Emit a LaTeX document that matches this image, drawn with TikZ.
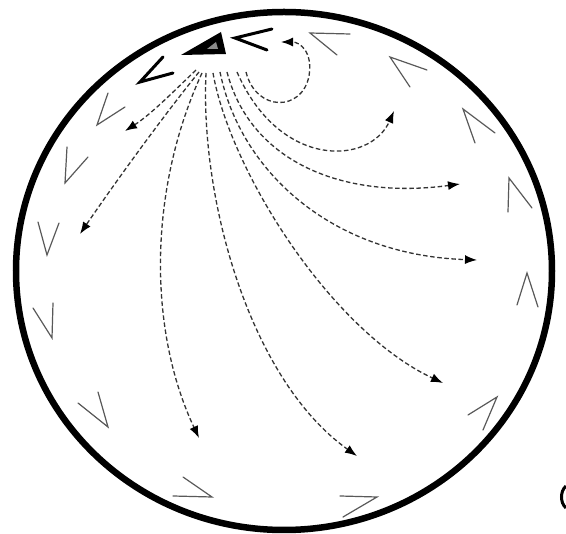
\documentclass[tikz,border=0pt]{standalone}
\usetikzlibrary{arrows.meta}
\begin{document}
\begin{tikzpicture}[x=1pt,y=-1pt,
  rim/.style={line width=6.5pt,black},
  flow/.style={line width=1.3pt,black!80,dash pattern=on 4.5pt off 2.6pt,-{Latex[length=12pt,width=9pt,fill=black,black]}},
  chev/.style={line width=1.2pt,black!65,line cap=round,line join=miter},
  bigchev/.style={line width=3pt,black,line cap=round,line join=miter}]
\useasboundingbox (0,0) rectangle (566,534);
% outer boundary
\draw[rim] (284,271) ellipse [x radius=268, y radius=259];
% fragment at right edge
\draw[line width=3pt] (566,486) .. controls (560,491) and (560,503) .. (566,508);
% source triangle
\fill[black] (181,55) -- (221,32) -- (226,54) -- cycle;
\fill[black!45] (207,49) -- (216,42) -- (218,49) -- cycle;
% thick chevrons near source
\draw[bigchev] (272,29) -- (235,38) -- (267,50);
\draw[bigchev] (163,57) -- (140,82) -- (173,73);
% thin chevrons along the rim
\draw[chev] (350,34) -- (310,33) -- (337,55);
\draw[chev] (427,70) -- (390,57) -- (410,87);
\draw[chev] (495,133) -- (463,109) -- (475,143);
\draw[chev] (532,208) -- (509,178) -- (508,212);
\draw[chev] (517,305) -- (527,273) -- (538,307);
\draw[chev] (468,415) -- (497,397) -- (483,430);
\draw[chev] (340,496) -- (377,497) -- (343,517);
\draw[chev] (173,496) -- (212,497) -- (183,477);
\draw[chev] (78,403) -- (108,427) -- (98,392);
\draw[chev] (33,308) -- (52,338) -- (53,303);
\draw[chev] (38,222) -- (47,255) -- (59,223);
\draw[chev] (67,147) -- (65,183) -- (88,157);
\draw[chev] (108,93) -- (97,125) -- (125,107);
% start points of flows
\coordinate (sa) at (196,70);
\coordinate (sb) at (199,72);
\coordinate (sc) at (202,73);
\coordinate (sd) at (206,73);
\coordinate (se) at (213,73);
\coordinate (sf) at (220,72);
\coordinate (sg) at (227,72);
\coordinate (sh) at (237,72);
\coordinate (si) at (246,72);
% end points
\coordinate (ea) at (125,131);
\coordinate (eb) at (80,234);
\coordinate (ec) at (199,438);
\coordinate (ed) at (357,456);
\coordinate (ee) at (443,383);
\coordinate (ef) at (477,260);
\coordinate (eg) at (460,184);
\coordinate (eh) at (394,111);
\coordinate (ei) at (281,42);
% flows
\draw[flow] (sa) .. controls (170,95) and (150,115) .. (ea);
\draw[flow] (sb) .. controls (160,120) and (110,190) .. (eb);
\draw[flow] (sc) .. controls (148,190) and (148,330) .. (ec);
\draw[flow] (sd) .. controls (200,200) and (250,380) .. (ed);
\draw[flow] (se) .. controls (230,170) and (330,330) .. (ee);
\draw[flow] (sf) .. controls (240,170) and (330,255) .. (ef);
\draw[flow] (sg) .. controls (250,160) and (340,200) .. (eg);
\draw[flow] (sh) .. controls (280,170) and (370,165) .. (eh);
\draw[flow] (si) .. controls (256,112) and (302,112) .. (309,76)
                 .. controls (313,52) and (300,42) .. (ei);
\end{tikzpicture}
\end{document}
